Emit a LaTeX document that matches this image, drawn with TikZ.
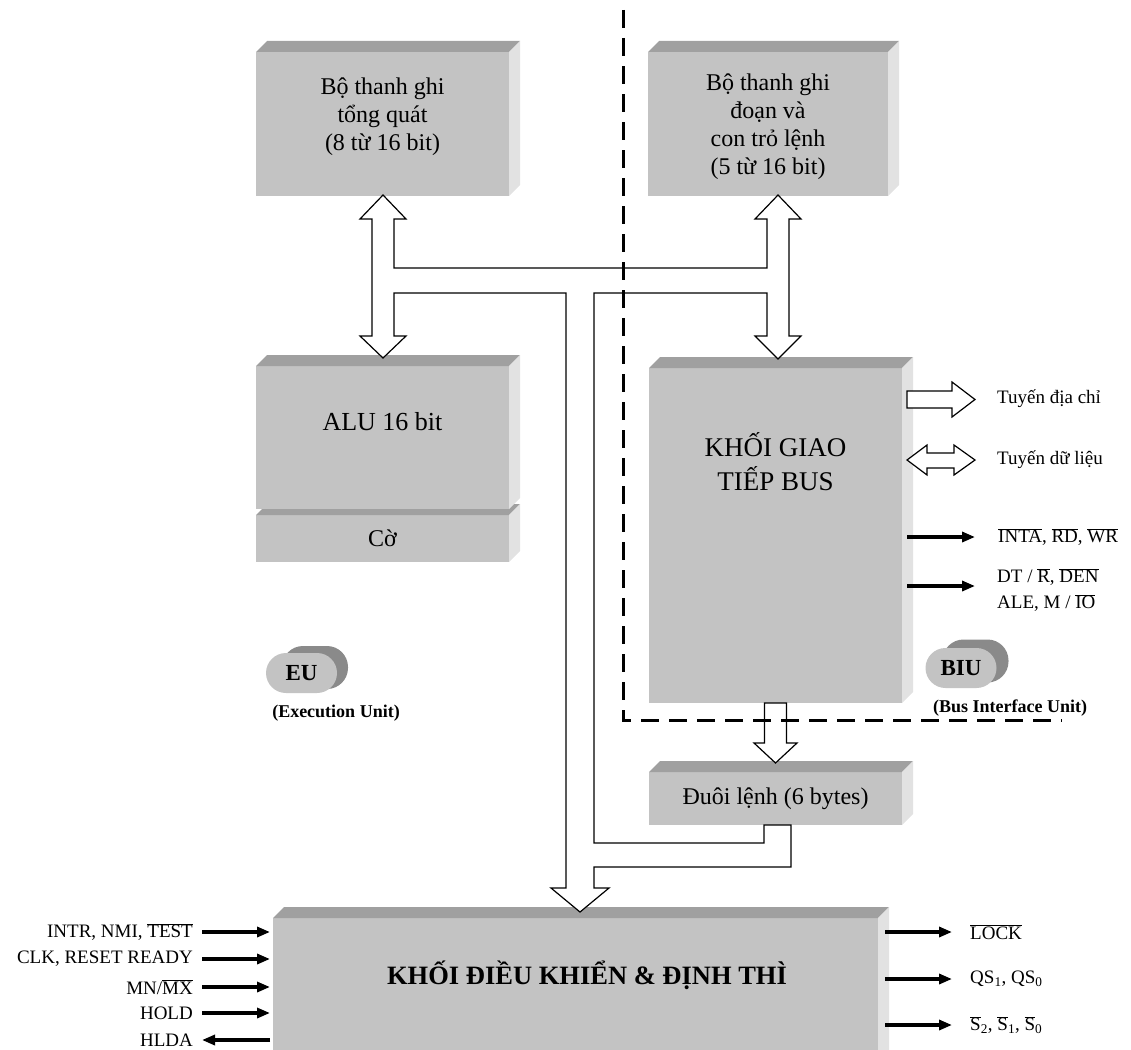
\documentclass[tikz,border=0pt]{standalone}
\usepackage{fontspec}
\setmainfont{Liberation Serif}
\usetikzlibrary{arrows.meta}
\definecolor{boxfront}{HTML}{C3C3C3}
\definecolor{boxtop}{HTML}{A0A0A0}
\definecolor{boxside}{HTML}{E2E2E2}
\definecolor{badgeback}{HTML}{8A8A8A}
\newcommand\olt[1]{\ensuremath{\overline{\mbox{#1}}}}
% top and side faces of a bevelled slab whose front face is node #1
\newcommand\slabfaces[1]{%
  \fill[boxtop] (#1.north west) -- ++(11,-11) -- ([shift={(11,-11)}]#1.north east) -- (#1.north east) -- cycle;
  \fill[boxside] (#1.north east) -- ++(11,-11) -- ([shift={(11,-11)}]#1.south east) -- (#1.south east) -- cycle;}
\begin{document}
\begin{tikzpicture}[x=1pt,y=-1pt,
  face/.style={fill=boxfront, inner sep=0pt, outer sep=0pt},
  boxtext/.style={align=center, font=\fontsize{24}{28}\selectfont},
  sidelabel/.style={font=\fontsize{19}{26}\selectfont, inner sep=0pt},
  sig/.style={line width=3.2pt, -{Triangle[length=13pt,width=10pt]}},
  bus/.style={draw=black, line width=1.2pt, fill=white, line join=miter},
  badgefront/.style={fill=boxfront, minimum width=71pt, minimum height=40pt, rounded corners=20pt, inner sep=0pt, font=\fontsize{23}{23}\selectfont\bfseries},
  badgeback/.style={fill=badgeback, minimum width=66pt, minimum height=43pt, rounded corners=21pt, inner sep=0pt},
  caption/.style={font=\fontsize{18}{18}\selectfont\bfseries, inner sep=0pt},
  divider/.style={line width=3pt, dash pattern=on 18pt off 10pt}]
\useasboundingbox (0,0) rectangle (1131,1049);

% ---------- slabs ----------
\node[face, minimum width=253pt, minimum height=144pt] (gpr) at (382.5,124) {};
\slabfaces{gpr}
\node[boxtext] (gprtxt) at (382.5,117) {Bộ thanh ghi\\tổng quát\\(8 từ 16 bit)};

\node[face, minimum width=240pt, minimum height=144pt] (seg) at (768,124) {};
\slabfaces{seg}
\node[boxtext] (segtxt) at (768,127) {Bộ thanh ghi\\đoạn và\\con trỏ lệnh\\(5 từ 16 bit)};

\node[face, minimum width=253pt, minimum height=47pt] (flag) at (382.5,538.5) {};
\slabfaces{flag}
\node[boxtext] (flagtxt) at (382.5,538) {Cờ};

\node[face, minimum width=253pt, minimum height=143pt] (alu) at (382.5,437.5) {};
\slabfaces{alu}
\node[boxtext, font=\fontsize{26}{30}\selectfont] (alutxt) at (382.5,422) {ALU 16 bit};

\node[face, minimum width=253pt, minimum height=335pt] (biu) at (775.5,535.5) {};
\slabfaces{biu}
\node[boxtext, font=\fontsize{27}{34}\selectfont] (biutxt) at (775.5,462) {KHỐI GIAO\\TIẾP BUS};

\node[face, minimum width=253pt, minimum height=53pt] (queue) at (775.5,798.5) {};
\slabfaces{queue}
\node[boxtext] (queuetxt) at (775.5,799) {Đuôi lệnh (6 bytes)};

\node[face, minimum width=605pt, minimum height=150pt] (ctrl) at (575.5,993) {};
\slabfaces{ctrl}
\node[boxtext, font=\fontsize{26.5}{30}\selectfont\bfseries] (ctrltxt) at (587,975) {KHỐI ĐIỀU KHIỂN \& ĐỊNH THÌ};

% ---------- internal bus ----------
\draw[bus] (383,195) -- (406,219) -- (394,219) -- (394,268) -- (767,268) -- (767,219) -- (755,219)
  -- (778,195) -- (801,219) -- (789,219) -- (789,336) -- (801,336) -- (778,359) -- (755,336)
  -- (767,336) -- (767,293) -- (594,293) -- (594,843) -- (764,843) -- (764,825) -- (791,825)
  -- (791,867) -- (594,867) -- (594,888) -- (609,888) -- (580,912) -- (551,888) -- (566,888)
  -- (566,293) -- (394,293) -- (394,336) -- (406,336) -- (383,358) -- (360,336) -- (372,336)
  -- (372,219) -- (360,219) -- cycle;

% BIU to instruction queue
\draw[bus] (764.5,703) -- (786.5,703) -- (786.5,743) -- (797,743) -- (775.5,763) -- (754,743)
  -- (764.5,743) -- cycle;

% ---------- external bus arrows ----------
\draw[bus] (907,391) -- (952,391) -- (952,382) -- (975,399.5) -- (952,417) -- (952,408) -- (907,408) -- cycle;
\draw[bus] (907,460) -- (927,445) -- (927,453) -- (954,453) -- (954,445) -- (975,460)
  -- (954,475) -- (954,468) -- (927,468) -- (927,475) -- cycle;
\node[sidelabel, anchor=west] (addr) at (997,399) {Tuyến địa chỉ};
\node[sidelabel, anchor=west] (data) at (997,460) {Tuyến dữ liệu};

% ---------- BIU control signals ----------
\coordinate (inta0) at (907,537);
\coordinate (inta1) at (975,537);
\coordinate (dt0) at (907,586);
\coordinate (dt1) at (975,586);
\draw[sig] (inta0) -- (inta1);
\draw[sig] (dt0) -- (dt1);
\node[sidelabel, anchor=west] (intalbl) at (998,537) {\olt{INTA}, \olt{RD}, \olt{WR}};
\node[sidelabel, anchor=west, align=left] (dtlbl) at (997,590) {DT / \olt{R}, \olt{DEN}\\ALE, M / \olt{IO}};

% ---------- unit badges ----------
\node[badgeback] (eubk) at (315,667.5) {};
\node[badgefront] (eu) at (301.5,673) {EU};
\node[caption] (eucap) at (336,713) {(Execution Unit)};
\node[badgeback] (biubk) at (975.5,661) {};
\node[badgefront] (biub) at (961,668) {BIU};
\node[caption] (biucap) at (1010,708) {(Bus Interface Unit)};

% ---------- control unit signals ----------
\coordinate (inL1) at (202,932);  \coordinate (inR1) at (270,932);
\coordinate (inL2) at (202,959);  \coordinate (inR2) at (270,959);
\coordinate (inL3) at (202,987);  \coordinate (inR3) at (270,987);
\coordinate (inL4) at (202,1013); \coordinate (inR4) at (270,1013);
\coordinate (inL5) at (202,1040); \coordinate (inR5) at (270,1040);
\draw[sig] (inL1) -- (inR1);
\draw[sig] (inL2) -- (inR2);
\draw[sig] (inL3) -- (inR3);
\draw[sig] (inL4) -- (inR4);
\draw[sig] (inR5) -- (inL5);
\node[sidelabel, anchor=east] (intr) at (193,932) {INTR, NMI, \olt{TEST}};
\node[sidelabel, anchor=east] (clk) at (193,959) {CLK, RESET READY};
\node[sidelabel, anchor=east] (mnmx) at (193,987) {MN/\olt{MX}};
\node[sidelabel, anchor=east] (hold) at (193,1013) {HOLD};
\node[sidelabel, anchor=east] (hlda) at (193,1040) {HLDA};

\coordinate (outL1) at (885,932);  \coordinate (outR1) at (952,932);
\coordinate (outL2) at (885,979);  \coordinate (outR2) at (952,979);
\coordinate (outL3) at (885,1025); \coordinate (outR3) at (952,1025);
\draw[sig] (outL1) -- (outR1);
\draw[sig] (outL2) -- (outR2);
\draw[sig] (outL3) -- (outR3);
\node[sidelabel, anchor=west] (lock) at (970,932) {\olt{LOCK}};
\node[sidelabel, anchor=west] (qs) at (970,979) {QS\textsubscript{1}, QS\textsubscript{0}};
\node[sidelabel, anchor=west] (st) at (970,1025) {\olt{S}\textsubscript{2}, \olt{S}\textsubscript{1}, \olt{S}\textsubscript{0}};

% ---------- EU / BIU boundary ----------
\coordinate (dv0) at (623,10);
\coordinate (dv1) at (623,720);
\coordinate (dv2) at (1062,720);
\draw[divider] (dv0) -- (dv1) -- (dv2);
\end{tikzpicture}
\end{document}
